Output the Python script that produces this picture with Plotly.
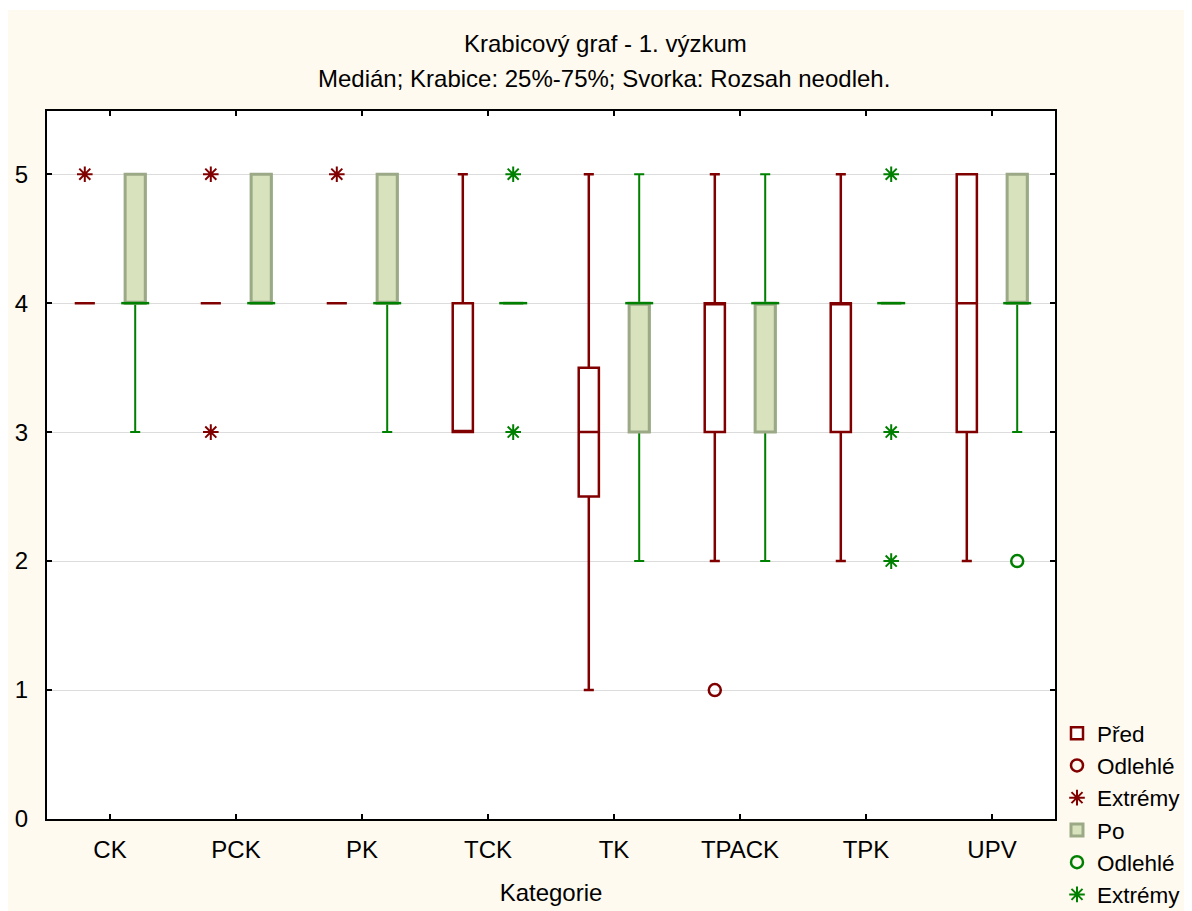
import plotly.graph_objects as go

# ---------------- data ----------------
categories = ["CK", "PCK", "PK", "TCK", "TK", "TPACK", "TPK", "UPV"]

# Před (before)
pred_q1 = [4, 4, 4, 3, 2.5, 3, 3, 3]
pred_median = [4, 4, 4, 3, 3, 4, 4, 4]
pred_q3 = [4, 4, 4, 4, 3.5, 4, 4, 5]
pred_low = [4, 4, 4, 3, 1, 2, 2, 2]
pred_high = [4, 4, 4, 5, 5, 5, 5, 5]
pred_outlier_cat = ["TPACK"]
pred_outlier_val = [1]
pred_extreme_cat = ["CK", "PCK", "PCK", "PK"]
pred_extreme_val = [5, 5, 3, 5]

# Po (after)
po_q1 = [4, 4, 4, 4, 3, 3, 4, 4]
po_median = [4, 4, 4, 4, 4, 4, 4, 4]
po_q3 = [5, 5, 5, 4, 4, 4, 4, 5]
po_low = [3, 4, 3, 4, 2, 2, 4, 3]
po_high = [5, 5, 5, 4, 5, 5, 4, 5]
po_outlier_cat = ["UPV"]
po_outlier_val = [2]
po_extreme_cat = ["TCK", "TCK", "TPK", "TPK", "TPK"]
po_extreme_val = [5, 3, 5, 3, 2]

# ---------------- styling ----------------
RED = "#800000"
GREEN = "#008000"
GREEN_FILL = "#D8E2BC"
GREEN_EDGE = "#9CA986"
CREAM = "#FFFAEF"
FONT = "Liberation Sans, Arial, sans-serif"
FS = 24

OFFSET = 0.2
BOXW = 0.16

idx = {c: i for i, c in enumerate(categories)}
pred_x = [i - OFFSET for i in range(len(categories))]
po_x = [i + OFFSET for i in range(len(categories))]

fig = go.Figure()

# Před box
fig.add_trace(go.Box(
    x=pred_x, q1=pred_q1, median=pred_median, q3=pred_q3,
    lowerfence=pred_low, upperfence=pred_high,
    width=BOXW, whiskerwidth=0.5, boxpoints=False,
    line=dict(color=RED, width=2.5), fillcolor="white",
    name="Před", legendrank=1, legendgroup="a", hoverinfo="skip",
))
fig.add_trace(go.Scatter(
    x=[idx[c] - OFFSET for c in pred_outlier_cat], y=pred_outlier_val,
    mode="markers", name="Odlehlé", legendrank=2, legendgroup="b",
    marker=dict(symbol="circle-open", size=12, color=RED, line=dict(width=2.5, color=RED)),
))
fig.add_trace(go.Scatter(
    x=[idx[c] - OFFSET for c in pred_extreme_cat], y=pred_extreme_val,
    mode="markers", name="Extrémy", legendrank=3, legendgroup="c",
    marker=dict(symbol="asterisk-open", size=13, color=RED, line=dict(width=2, color=RED)),
))

# Po whiskers (green)
fig.add_trace(go.Box(
    x=po_x, q1=po_q1, median=po_median, q3=po_q3,
    lowerfence=po_low, upperfence=po_high,
    width=BOXW, whiskerwidth=0.5, boxpoints=False,
    line=dict(color=GREEN, width=2), fillcolor="rgba(0,0,0,0)",
    showlegend=False, hoverinfo="skip",
))
# Po box body
fig.add_trace(go.Box(
    x=po_x, q1=po_q1, median=po_median, q3=po_q3,
    lowerfence=po_q1, upperfence=po_q3,
    width=BOXW, whiskerwidth=0, boxpoints=False,
    line=dict(color=GREEN_EDGE, width=3), fillcolor=GREEN_FILL,
    name="Po", legendrank=4, legendgroup="d", hoverinfo="skip",
))
# Po median lines
fig.add_trace(go.Scatter(
    x=po_x, y=po_median, mode="markers", showlegend=False, hoverinfo="skip",
    marker=dict(symbol="line-ew", size=20, color=GREEN, line=dict(width=2.5, color=GREEN)),
))
fig.add_trace(go.Scatter(
    x=[idx[c] + OFFSET for c in po_outlier_cat], y=po_outlier_val,
    mode="markers", name="Odlehlé", legendrank=5, legendgroup="e",
    marker=dict(symbol="circle-open", size=12, color=GREEN, line=dict(width=2.5, color=GREEN)),
))
fig.add_trace(go.Scatter(
    x=[idx[c] + OFFSET for c in po_extreme_cat], y=po_extreme_val,
    mode="markers", name="Extrémy", legendrank=6, legendgroup="f",
    marker=dict(symbol="asterisk-open", size=13, color=GREEN, line=dict(width=2, color=GREEN)),
))

# page has an 8px body margin: figure coordinates = page coordinates - 8
OFF = 8
W, H = 1192 - OFF, 911 - OFF
L, T = 47 - OFF, 111 - OFF
R = W - (1055 - OFF)
B = H - (819 - OFF)
pw, ph = W - L - R, H - T - B

def px(xpage):
    return (xpage - OFF - L) / pw

def py(ypage):
    return (H - B - (ypage - OFF)) / ph

fig.update_layout(
    width=W, height=H,
    margin=dict(l=L, r=R, t=T, b=B, pad=0, autoexpand=False),
    paper_bgcolor=CREAM, plot_bgcolor="white",
    font=dict(family=FONT, size=FS, color="black"),
    showlegend=True,
    legend=dict(
        x=px(1057), y=py(712), xanchor="left", yanchor="top",
        bgcolor="rgba(0,0,0,0)", font=dict(size=22.5, family=FONT),
        tracegroupgap=0, itemwidth=30,
    ),
    xaxis=dict(
        range=[-0.5, len(categories) - 0.5], automargin=False,
        tickmode="array", tickvals=list(range(len(categories))), ticktext=categories,
        ticks="inside", ticklen=5, tickwidth=2, tickcolor="black",
        showline=True, linecolor="black", linewidth=2, mirror="ticks",
        showgrid=False, zeroline=False,
        title=dict(text="Kategorie", font=dict(size=FS), standoff=22),
        tickfont=dict(size=FS), ticklabelstandoff=8,
    ),
    yaxis=dict(
        range=[0, 5.49], automargin=False,
        tickmode="array", tickvals=[0, 1, 2, 3, 4, 5],
        ticks="inside", ticklen=5, tickwidth=2, tickcolor="black",
        showline=True, linecolor="black", linewidth=2, mirror="ticks",
        showgrid=True, gridcolor="#DCDCDC", gridwidth=1, zeroline=False,
        tickfont=dict(size=FS), ticklabelstandoff=12,
    ),
    annotations=[
        dict(text="Krabicový graf - 1. výzkum", x=px(605), y=py(43), xref="paper", yref="paper",
             showarrow=False, xanchor="center", yanchor="middle", font=dict(size=FS)),
        dict(text="Medián; Krabice: 25%-75%; Svorka: Rozsah neodleh.", x=px(604), y=py(79),
             xref="paper", yref="paper", showarrow=False, xanchor="center", yanchor="middle",
             font=dict(size=FS)),
    ],
    shapes=[
        dict(type="rect", xref="paper", yref="paper", x0=px(OFF), x1=px(1192), y0=py(OFF), y1=py(10),
             fillcolor="white", line=dict(width=0), layer="below"),
    ],
)

fig.write_html("out.html")
